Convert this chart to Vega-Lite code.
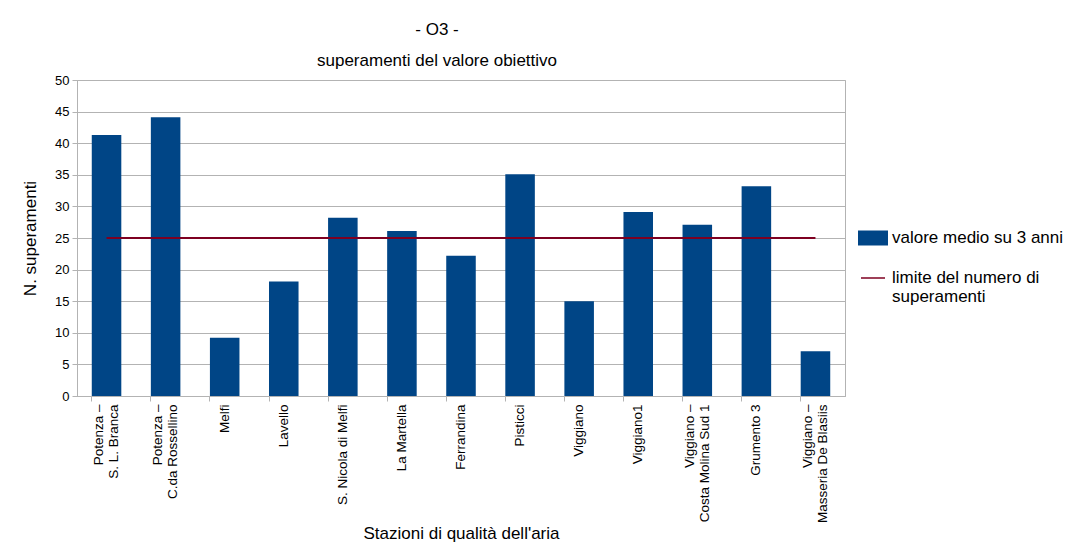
{
  "$schema": "https://vega.github.io/schema/vega-lite/v6.json",
  "width": 768,
  "height": 316,
  "padding": {"left": 21, "top": 21, "right": 5, "bottom": 2},
  "background": "white",
  "title": {
    "text": "- O3 -",
    "subtitle": "superamenti del valore obiettivo",
    "font": "Liberation Sans",
    "subtitleFont": "Liberation Sans",
    "fontSize": 17,
    "subtitleFontSize": 17,
    "fontWeight": "normal",
    "color": "#000000",
    "subtitleColor": "#000000",
    "subtitlePadding": 14,
    "offset": 4,
    "anchor": "middle",
    "dx": -24
  },
  "config": {
    "view": {"stroke": "#b3b3b3"},
    "font": "Liberation Sans",
    "axis": {
      "labelFont": "Liberation Sans",
      "titleFont": "Liberation Sans",
      "labelColor": "#000000",
      "titleColor": "#000000",
      "titleFontWeight": "normal",
      "domainColor": "#b3b3b3",
      "tickColor": "#b3b3b3",
      "gridColor": "#b3b3b3",
      "labelFontSize": 13,
      "titleFontSize": 17
    },
    "legend": {
      "labelFont": "Liberation Sans",
      "labelFontSize": 17,
      "labelColor": "#000000",
      "labelLimit": 300
    }
  },
  "data": {
    "values": [
      {"stazione": "Potenza –\nS. L. Branca", "valore": 41.3, "limite": 25},
      {"stazione": "Potenza –\nC.da Rossellino", "valore": 44.1, "limite": 25},
      {"stazione": "Melfi", "valore": 9.2, "limite": 25},
      {"stazione": "Lavello", "valore": 18.1, "limite": 25},
      {"stazione": "S. Nicola di Melfi", "valore": 28.2, "limite": 25},
      {"stazione": "La Martella", "valore": 26.1, "limite": 25},
      {"stazione": "Ferrandina", "valore": 22.2, "limite": 25},
      {"stazione": "Pisticci", "valore": 35.1, "limite": 25},
      {"stazione": "Viggiano", "valore": 15.0, "limite": 25},
      {"stazione": "Viggiano1", "valore": 29.1, "limite": 25},
      {"stazione": "Viggiano –\nCosta Molina Sud 1", "valore": 27.1, "limite": 25},
      {"stazione": "Grumento 3", "valore": 33.2, "limite": 25},
      {"stazione": "Viggiano –\nMasseria De Blasiis", "valore": 7.1, "limite": 25}
    ]
  },
  "layer": [
    {
      "mark": {"type": "bar"},
      "encoding": {
        "x": {
          "field": "stazione",
          "type": "nominal",
          "sort": null,
          "scale": {"paddingInner": 0.5, "paddingOuter": 0.25},
          "axis": {
            "title": "Stazioni di qualità dell'aria",
            "titlePadding": 3,
            "labelAngle": -90,
            "labelFontSize": 13.5,
            "labelExpr": "split(datum.label, '\\n')",
            "labelLineHeight": 15,
            "labelPadding": 3,
            "labelOffset": {"condition": {"test": "indexof(datum.value, '\\n') >= 0", "value": -7.5}, "value": 0},
            "bandPosition": 0,
            "tickSize": 5,
            "grid": false
          }
        },
        "y": {
          "field": "valore",
          "type": "quantitative",
          "scale": {"domain": [0, 50]},
          "axis": {
            "title": "N. superamenti",
            "values": [0, 5, 10, 15, 20, 25, 30, 35, 40, 45, 50],
            "tickSize": 5,
            "labelPadding": 3,
            "titlePadding": 15,
            "grid": true
          }
        },
        "fill": {
          "datum": "valore medio su 3 anni",
          "type": "nominal",
          "scale": {"range": ["#004586"]},
          "legend": {
            "title": null,
            "orient": "none",
            "legendX": 781,
            "legendY": 143,
            "symbolType": "M-1,-0.5H1V0.5H-1Z",
            "symbolSize": 900,
            "symbolStrokeWidth": 0,
            "labelOffset": 4
          }
        }
      }
    },
    {
      "mark": {"type": "line", "strokeWidth": 2},
      "encoding": {
        "x": {"field": "stazione", "type": "nominal", "sort": null},
        "y": {
          "field": "limite",
          "type": "quantitative",
          "axis": {
            "title": "N. superamenti",
            "values": [0, 5, 10, 15, 20, 25, 30, 35, 40, 45, 50],
            "tickSize": 5,
            "labelPadding": 3,
            "titlePadding": 15,
            "grid": true
          }
        },
        "stroke": {
          "datum": "limite del numero di superamenti",
          "type": "nominal",
          "scale": {"range": ["#7e0021"]},
          "legend": {
            "title": null,
            "orient": "none",
            "legendX": 783,
            "legendY": 185,
            "symbolType": "stroke",
            "symbolSize": 576,
            "symbolStrokeWidth": 1.5,
            "labelOffset": 6,
            "labelExpr": "datum.label == 'limite del numero di superamenti' ? ['limite del numero di', 'superamenti'] : datum.label"
          }
        }
      }
    }
  ]
}
